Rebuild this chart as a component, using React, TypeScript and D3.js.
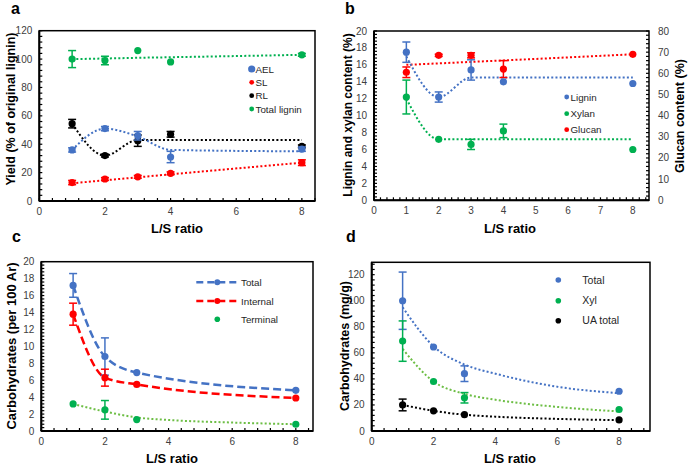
import React from "react";
import { scaleLinear, line, curveMonotoneX, range } from "d3";

// ---- data ----
const lsA = [1, 2, 3, 4, 8];
const aelVals = [36, 51, 46, 31, 36.5];
const aelErr = [1.5, 1.5, 3, 4, 1.5];
const aelFit = [36, 51, 45.5, 36, 35];
const slVals = [13, 15.5, 17, 19.5, 27];
const slErr = [1.5, 1, 1, 1, 2];
const slFit = [12.5, 14.6, 16.7, 18.8, 27];
const rlVals = [54.5, 32, 42.5, 47, 38.5];
const rlErr = [3, 1, 4, 2, 1];
const rlFit = [54.5, 32, 43, 43, 43];
const totVals = [100, 99, 106, 98, 103];
const totErr = [6, 3, 0, 0, 1];
const totFit = [100, 100.4, 100.9, 101.3, 103];

const lsB = [1, 2, 3, 4, 8];
const ligninVals = [17.5, 12.2, 15.4, 14.0, 13.8];
const ligninErr = [1.2, 0.6, 1.2, 0, 0];
const ligninFit = [17, 12.2, 14.5, 14.5, 14.5];
const xylanVals = [12.2, 7.2, 6.6, 8.2, 6.0];
const xylanErr = [2, 0, 0.6, 0.8, 0];
const xylanFit = [12, 7.2, 7.2, 7.2, 7.2];
const glucanVals = [60.5, 68.5, 68.5, 62, 69];
const glucanErr = [2.5, 0.5, 1.2, 4, 0];
const glucanFit = [64, 64.7, 65.4, 66.1, 69];

const lsC = [1, 2, 3, 8];
const carbTotal = [17.2, 8.8, 6.9, 4.8];
const carbTotalErr = [1.4, 2.2, 0, 0];
const carbInternal = [13.8, 6.3, 5.5, 3.9];
const carbInternalErr = [1.3, 1, 0, 0];
const carbTerminal = [3.2, 2.5, 1.35, 0.8];
const carbTerminalErr = [0, 1.1, 0, 0];
const termFitX = [1, 2, 3, 4, 6, 8];
const termFit = [3.2, 2.3, 1.6, 1.3, 1.0, 0.8];

const lsD = [1, 2, 3, 8];
const dTotal = [100, 64.5, 44, 30.5];
const dTotalErr = [22, 0, 6, 0];
const dXyl = [69, 38, 25.5, 16.5];
const dXylErr = [15.5, 0, 4, 0];
const dUA = [20, 15.5, 12.5, 8.5];
const dUAErr = [4.5, 0, 0, 0];
const dFitX = [1, 2, 3, 4, 6, 8];
const dTotalFit = [95, 65, 51, 44, 34, 29];
const dXylFit = [63, 38, 28.5, 24, 18.5, 15];
const dUAFit = [20, 15.5, 12.5, 11, 9.3, 8.3];

const BLUE = "#4472C4";
const RED = "#FF0000";
const GREEN = "#00B050";
const LGREEN = "#6DBE45";
const FONT = "Arial, 'Liberation Sans', sans-serif";
const TICKC = "#404040";

type Series = {
  xs: number[];
  ys: number[];
  err?: number[];
  fitX?: number[];
  fit?: number[];
  color: string;
  lineColor?: string;
  dash: string;
  width: number;
  right?: boolean;
};

type PanelProps = {
  l: number; r: number; t: number; b: number;
  xMax: number; xStep: number; xMinor: number;
  yMax: number; yStep: number; yMinor: number;
  y2Max?: number; y2Step?: number; y2Minor?: number;
  series: Series[];
};

function Panel(p: PanelProps) {
  const x = scaleLinear().domain([0, p.xMax]).range([p.l, p.r]);
  const y = scaleLinear().domain([0, p.yMax]).range([p.b, p.t]);
  const y2 = p.y2Max ? scaleLinear().domain([0, p.y2Max]).range([p.b, p.t]) : y;
  const xT = range(0, p.xMax + 1e-6, p.xStep);
  const xM = range(0, p.xMax + 1e-6, p.xMinor);
  const yT = range(0, p.yMax + 1e-6, p.yStep);
  const yM = range(0, p.yMax + 1e-6, p.yMinor);
  const y2T = p.y2Max ? range(0, p.y2Max + 1e-6, p.y2Step!) : [];
  const y2M = p.y2Max ? range(0, p.y2Max + 1e-6, p.y2Minor!) : [];
  return (
    <g>
      <rect x={p.l} y={p.t} width={p.r - p.l} height={p.b - p.t} fill="none" stroke="#000" strokeWidth={1.5} />
      <line x1={p.l} x2={p.r} y1={p.b} y2={p.b} stroke="#000" strokeWidth={2} />
      <line x1={p.l} x2={p.l} y1={p.t} y2={p.b} stroke="#000" strokeWidth={2} />
      {xM.map((v) => (
        <line key={"xm" + v} x1={x(v)} x2={x(v)} y1={p.b} y2={p.b - 3} stroke="#000" strokeWidth={1.2} />
      ))}
      {yM.map((v) => (
        <line key={"ym" + v} x1={p.l} x2={p.l + 3} y1={y(v)} y2={y(v)} stroke="#000" strokeWidth={1.2} />
      ))}
      {y2M.map((v) => (
        <line key={"y2m" + v} x1={p.r} x2={p.r - 3} y1={y2(v)} y2={y2(v)} stroke="#000" strokeWidth={1.2} />
      ))}
      {xT.map((v) => (
        <text key={"xt" + v} x={x(v)} y={p.b + 14} textAnchor="middle" fontSize={10} fill={TICKC} fontFamily={FONT}>
          {v}
        </text>
      ))}
      {yT.map((v) => (
        <text key={"yt" + v} x={p.l - 7} y={y(v) + 3.5} textAnchor="end" fontSize={10} fill={TICKC} fontFamily={FONT}>
          {v}
        </text>
      ))}
      {y2T.map((v) => (
        <text key={"y2t" + v} x={p.r + 9} y={y2(v) + 3.5} textAnchor="start" fontSize={10} fill={TICKC} fontFamily={FONT}>
          {v}
        </text>
      ))}
      {p.series.map((s, i) => {
        const ys = s.right ? y2 : y;
        const fx = s.fitX || s.xs;
        const pts = fx.map((v, j) => [v, s.fit![j]] as [number, number]);
        const gen = line<[number, number]>()
          .x((d) => x(d[0]))
          .y((d) => ys(d[1]))
          .curve(curveMonotoneX);
        return (
          <path key={"f" + i} d={gen(pts) || ""} fill="none" stroke={s.lineColor || s.color}
            strokeWidth={s.width} strokeDasharray={s.dash} />
        );
      })}
      {p.series.map((s, i) => {
        const ys = s.right ? y2 : y;
        return (
          <g key={"s" + i}>
            {s.xs.map((v, j) => {
              const e = s.err ? s.err[j] : 0;
              return (
                <g key={j}>
                  {e > 0 && (
                    <g stroke={s.color} strokeWidth={1.5}>
                      <line x1={x(v)} x2={x(v)} y1={ys(s.ys[j] - e)} y2={ys(s.ys[j] + e)} />
                      <line x1={x(v) - 4} x2={x(v) + 4} y1={ys(s.ys[j] - e)} y2={ys(s.ys[j] - e)} />
                      <line x1={x(v) - 4} x2={x(v) + 4} y1={ys(s.ys[j] + e)} y2={ys(s.ys[j] + e)} />
                    </g>
                  )}
                  <circle cx={x(v)} cy={ys(s.ys[j])} r={3.6} fill={s.color} />
                </g>
              );
            })}
          </g>
        );
      })}
    </g>
  );
}

const DOT = "2 2.2";

type LegendItem = { label: string; color: string; y: number; r: number; line?: string };

function Legend({ items, x, tx, fs }: { items: LegendItem[]; x: number; tx: number; fs: number }) {
  return (
    <g>
      {items.map((it) => (
        <g key={it.label}>
          {it.line && (
            <line x1={x - 21} x2={x + 21} y1={it.y} y2={it.y} stroke={it.line} strokeWidth={2.5} strokeDasharray="7 4" />
          )}
          <circle cx={x} cy={it.y} r={it.r} fill={it.color} />
          <text x={tx} y={it.y + fs * 0.36} fontSize={fs} fill="#262626" fontFamily={FONT}>
            {it.label}
          </text>
        </g>
      ))}
    </g>
  );
}

function Title({ x, y, text, rotate, fs = 13 }: { x: number; y: number; text: string; rotate?: number; fs?: number }) {
  return (
    <text x={x} y={y} textAnchor="middle" fontSize={fs} fontWeight="bold" fill="#000" fontFamily={FONT}
      transform={rotate ? `rotate(${rotate},${x},${y})` : undefined}>
      {text}
    </text>
  );
}

function Letter({ x, y, t }: { x: number; y: number; t: string }) {
  return (
    <text x={x} y={y} fontSize={16} fontWeight="bold" fontFamily={FONT}>{t}</text>
  );
}

export default function App() {
  return (
    <svg width={688} height={467} style={{ position: "absolute", left: 0, top: 0, background: "#fff" }}>
      <rect width={688} height={467} fill="#fff" />
      {/* a */}
      <Panel l={39.3} r={315} t={30.7} b={201} xMax={8.4} xStep={2} xMinor={0.4} yMax={120} yStep={20} yMinor={4}
        series={[
          { xs: lsA, ys: totVals, err: totErr, fit: totFit, color: GREEN, dash: DOT, width: 2 },
          { xs: lsA, ys: rlVals, err: rlErr, fit: rlFit, color: "#000", dash: DOT, width: 2 },
          { xs: lsA, ys: aelVals, err: aelErr, fit: aelFit, color: BLUE, dash: DOT, width: 2 },
          { xs: lsA, ys: slVals, err: slErr, fit: slFit, color: RED, dash: DOT, width: 2 },
        ]} />
      <Legend x={251.7} tx={255.5} fs={9.8} items={[
        { label: "AEL", color: BLUE, y: 69, r: 3.6 },
        { label: "SL", color: RED, y: 82.3, r: 2.4 },
        { label: "RL", color: "#000", y: 95.7, r: 2.4 },
        { label: "Total lignin", color: GREEN, y: 109, r: 2.4 },
      ]} />
      <Letter x={11} y={14} t="a" />
      <Title x={177} y={233} text="L/S ratio" />
      <Title x={15} y={109} text="Yield (% of original lignin)" rotate={-90} fs={12.5} />

      {/* b */}
      <Panel l={374} r={649} t={31} b={200.3} xMax={8.5} xStep={1} xMinor={0.2} yMax={20} yStep={2} yMinor={0.4}
        y2Max={80} y2Step={10} y2Minor={2}
        series={[
          { xs: lsB, ys: glucanVals, err: glucanErr, fit: glucanFit, color: RED, dash: DOT, width: 2, right: true },
          { xs: lsB, ys: ligninVals, err: ligninErr, fit: ligninFit, color: BLUE, dash: DOT, width: 2 },
          { xs: lsB, ys: xylanVals, err: xylanErr, fit: xylanFit, color: GREEN, dash: DOT, width: 2 },
        ]} />
      <Legend x={566.7} tx={570.5} fs={9.8} items={[
        { label: "Lignin", color: BLUE, y: 97, r: 2.4 },
        { label: "Xylan", color: GREEN, y: 113.7, r: 2.4 },
        { label: "Glucan", color: RED, y: 129.7, r: 2.4 },
      ]} />
      <Letter x={345} y={14} t="b" />
      <Title x={510} y={233} text="L/S ratio" />
      <Title x={352} y={115} text="Lignin and xylan content (%)" rotate={-90} fs={12} />
      <Title x={684} y={116} text="Glucan content (%)" rotate={-90} fs={12.5} />

      {/* c */}
      <Panel l={41.3} r={313} t={261.7} b={431} xMax={8.54} xStep={2} xMinor={0.4} yMax={20} yStep={2} yMinor={0.4}
        series={[
          { xs: lsC, ys: carbTotal, err: carbTotalErr, fit: carbTotal, color: BLUE, dash: "8 4", width: 2.5 },
          { xs: lsC, ys: carbInternal, err: carbInternalErr, fit: carbInternal, color: RED, dash: "8 4", width: 2.5 },
          { xs: lsC, ys: carbTerminal, err: carbTerminalErr, fitX: termFitX, fit: termFit, color: GREEN, lineColor: LGREEN, dash: DOT, width: 2 },
        ]} />
      <Legend x={217.3} tx={241} fs={9.8} items={[
        { label: "Total", color: BLUE, y: 282.3, r: 3, line: BLUE },
        { label: "Internal", color: RED, y: 301, r: 3, line: RED },
        { label: "Terminal", color: GREEN, y: 319.3, r: 2.8 },
      ]} />
      <Letter x={12} y={242} t="c" />
      <Title x={172} y={463} text="L/S ratio" />
      <Title x={16} y={346} text="Carbohydrates (per 100 Ar)" rotate={-90} />

      {/* d */}
      <Panel l={371.7} r={650} t={262.3} b={431} xMax={9} xStep={2} xMinor={0.4} yMax={129.5} yStep={20} yMinor={4}
        series={[
          { xs: lsD, ys: dTotal, err: dTotalErr, fitX: dFitX, fit: dTotalFit, color: BLUE, dash: DOT, width: 2 },
          { xs: lsD, ys: dXyl, err: dXylErr, fitX: dFitX, fit: dXylFit, color: GREEN, lineColor: LGREEN, dash: DOT, width: 2 },
          { xs: lsD, ys: dUA, err: dUAErr, fitX: dFitX, fit: dUAFit, color: "#000", dash: DOT, width: 2 },
        ]} />
      <Legend x={558.3} tx={582.3} fs={10.5} items={[
        { label: "Total", color: BLUE, y: 280, r: 2.8 },
        { label: "Xyl", color: GREEN, y: 300.7, r: 2.8 },
        { label: "UA total", color: "#000", y: 320.7, r: 2.8 },
      ]} />
      <Letter x={346} y={242} t="d" />
      <Title x={510} y={463} text="L/S ratio" />
      <Title x={349} y={346} text="Carbohydrates (mg/g)" rotate={-90} fs={12.5} />
    </svg>
  );
}
